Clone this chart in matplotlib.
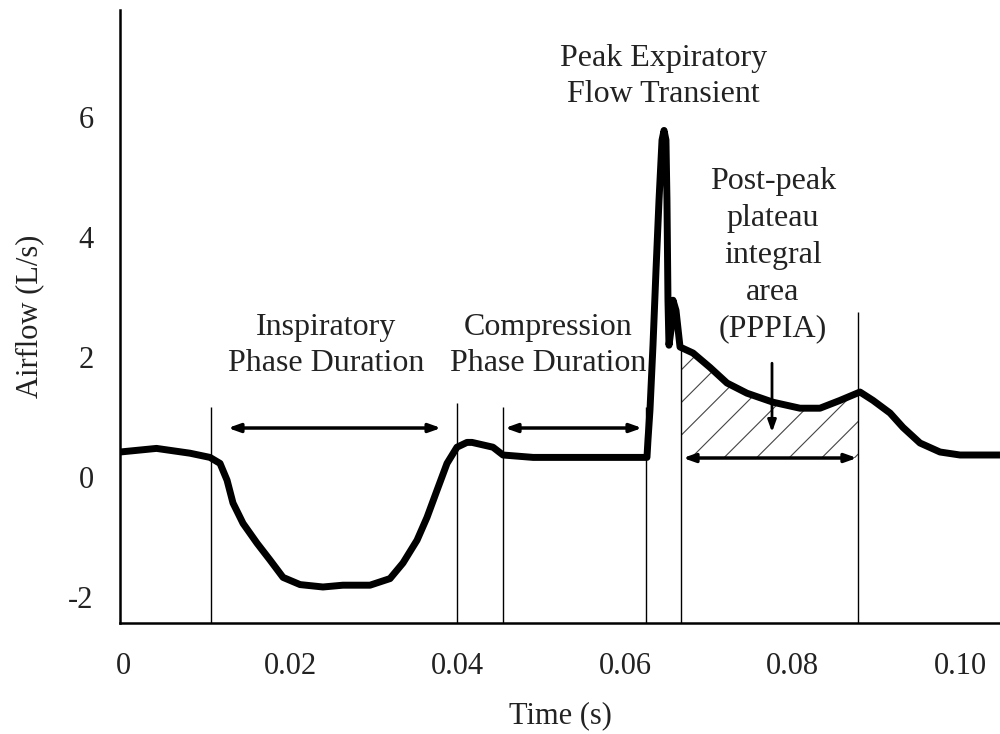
import numpy as np
import matplotlib
matplotlib.use('Agg')
from matplotlib import pyplot as plt

plt.rcParams['font.family'] = ['Liberation Serif', 'DejaVu Serif']

# airflow trace
time_s = [-0.00036, 0.0040, 0.0080, 0.01039, 0.01159, 0.01243, 0.01314, 0.01434, 0.01601, 0.01756,
          0.01912, 0.02115, 0.02389, 0.02628, 0.02951, 0.0319, 0.03345, 0.03513, 0.03632, 0.03751,
          0.03871, 0.0399, 0.0411, 0.0417, 0.0442, 0.0454, 0.049, 0.0626,
          0.06272, 0.06296, 0.06332, 0.06368, 0.06404, 0.0644, 0.06464, 0.06487, 0.06499, 0.06511,
          0.06523, 0.06547, 0.06571, 0.06607, 0.06655, 0.0681, 0.07013, 0.07216, 0.07455, 0.07766,
          0.08088, 0.08327, 0.08566, 0.08805, 0.08961, 0.09164, 0.09319, 0.09522, 0.09761, 0.1, 0.10478]
airflow = [0.42, 0.48, 0.40, 0.33, 0.23, -0.05, -0.43, -0.77, -1.10, -1.38,
           -1.67, -1.79, -1.83, -1.80, -1.80, -1.69, -1.43, -1.05, -0.67, -0.22,
           0.23, 0.50, 0.58, 0.58, 0.50, 0.37, 0.33, 0.33,
           0.62, 1.12, 2.2, 3.45, 4.62, 5.62, 5.78, 5.62, 4.62, 2.95,
           2.2, 2.45, 2.95, 2.78, 2.17, 2.07, 1.83, 1.57, 1.40, 1.25,
           1.15, 1.15, 1.28, 1.42, 1.28, 1.07, 0.83, 0.57, 0.42, 0.37, 0.37]

# phase boundary markers (time, top of line)
marker_t = [0.01051, 0.0399, 0.0454, 0.06249, 0.06667, 0.08781]
marker_top = [1.17, 1.23, 1.17, 1.17, 2.23, 2.75]

pppia_start, pppia_end, pppia_base = 0.06667, 0.08781, 0.32

fig = plt.figure(figsize=(10, 7.34), dpi=100)
ax = fig.add_axes([0.12, 0.151, 0.88, 0.835])

t = np.array(time_s)
f = np.array(airflow)

# hatched PPPIA area
mask = (t >= pppia_start) & (t <= pppia_end)
tt = np.concatenate([[pppia_start], t[mask], [pppia_end]])
ff = np.interp(tt, t, f)
area = ax.fill_between(tt, ff, pppia_base, facecolor='none', edgecolor='none')
for x0 in np.arange(pppia_start - 0.03, pppia_end, 0.0039):
    xs = np.array([x0, x0 + 0.03])
    ln, = ax.plot(xs, pppia_base + (xs - x0) * 139.5, color='#444444', lw=0.8)
    ln.set_clip_path(area.get_paths()[0], ax.transData)

ax.vlines(marker_t, -2.433, marker_top, color='black', lw=1)
ax.plot(t, f, color='black', lw=5, solid_joinstyle='round', solid_capstyle='round')

arrow = dict(arrowstyle='<|-|>,head_length=0.7,head_width=0.25', lw=2.5, color='black',
             shrinkA=0, shrinkB=0)
ax.annotate('', xy=(0.01254, 0.82), xytext=(0.038, 0.82), arrowprops=arrow)
ax.annotate('', xy=(0.04564, 0.82), xytext=(0.06201, 0.82), arrowprops=arrow)
ax.annotate('', xy=(0.06691, 0.32), xytext=(0.08769, 0.32), arrowprops=arrow)
ax.annotate('', xy=(0.07754, 0.75), xytext=(0.07754, 1.9),
            arrowprops=dict(arrowstyle='-|>,head_length=0.7,head_width=0.25', lw=2,
                            color='black', shrinkA=0, shrinkB=0))

fs = 22
afs = 23
ax.text(0.02425, 2.2, 'Inspiratory\nPhase Duration', ha='center', va='center',
        fontsize=afs, color='#222222', linespacing=1.3)
ax.text(0.05078, 2.2, 'Compression\nPhase Duration', ha='center', va='center',
        fontsize=afs, color='#222222', linespacing=1.3)
ax.text(0.0646, 6.68, 'Peak Expiratory\nFlow Transient', ha='center', va='center',
        fontsize=afs, color='#222222', linespacing=1.3)
ax.text(0.07766, 3.7, 'Post-peak\nplateau\nintegral\narea\n(PPPIA)', ha='center', va='center',
        fontsize=afs, color='#222222', linespacing=1.36)

ax.set_xlim(-0.00036, 0.10478)
ax.set_ylim(-2.433, 7.783)
ax.set_xticks([0, 0.02, 0.04, 0.06, 0.08, 0.10])
ax.set_xticklabels(['0', '0.02', '0.04', '0.06', '0.08', '0.10'])
ax.set_yticks([-2, 0, 2, 4, 6])
ax.set_yticklabels(['-2', '0', '2', '4', '6'])
ax.tick_params(axis='x', length=0, pad=21, labelsize=fs, labelcolor='#222222')
ax.tick_params(axis='y', length=0, pad=19, labelsize=fs, labelcolor='#222222')
ax.set_xlabel('Time (s)', fontsize=fs, labelpad=14, color='#222222')
ax.set_ylabel('Airflow (L/s)', fontsize=fs, labelpad=17, color='#222222')
ax.spines['top'].set_visible(False)
ax.spines['right'].set_visible(False)
for s in ['left', 'bottom']:
    ax.spines[s].set_linewidth(1.8)

fig.savefig('out.png', dpi=100)
